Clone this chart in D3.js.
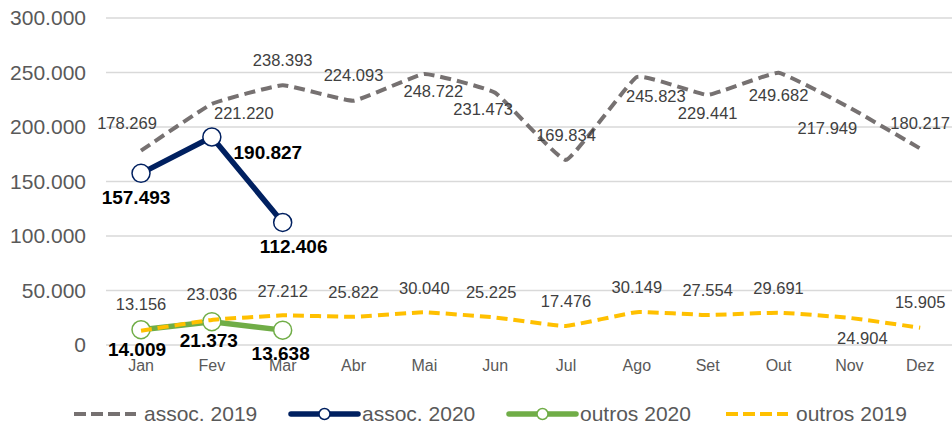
<!DOCTYPE html>
<html>
<head>
<meta charset="utf-8">
<script src="https://cdn.jsdelivr.net/npm/d3@7"></script>
<style>
  body { margin: 0; background: #fff; }
  svg { display: block; font-family: "Liberation Sans", Arial, sans-serif; }
</style>
</head>
<body>
<svg id="chart" width="952" height="425"></svg>
<script>
// chart data
const months = ['Jan', 'Fev', 'Mar', 'Abr', 'Mai', 'Jun', 'Jul', 'Ago', 'Set', 'Out', 'Nov', 'Dez'];
const yTicks = [0, 50000, 100000, 150000, 200000, 250000, 300000];
const assoc2019 = [178269, 221220, 238393, 224093, 248722, 231473, 169834, 245823, 229441, 249682, 217949, 180217];
const assoc2020 = [157493, 190827, 112406];
const outros2020 = [14009, 21373, 13638];
const outros2019 = [13156, 23036, 27212, 25822, 30040, 25225, 17476, 30149, 27554, 29691, 24904, 15905];

// label offsets (dx, dy from the point), as placed in the original
const assoc2019Off = [[-14, -27], [32, 9], [0, -25], [0, -26], [9, 17], [-12, 17], [0, -25], [19, 19], [0, 18], [0, 22], [-22, 21], [0, -25]];
const assoc2020Off = [[-5, 24], [56, 15], [11, 24]];
const outros2020Off = [[-4, 20], [-3, 19], [-2, 23]];
const outros2019Off = [[0, -26], [0, -26], [0, -24], [0, -25], [0, -24], [-4, -25], [0, -25], [0, -25], [0, -25], [0, -24], [13, 20], [0, -25]];

const fmt = d3.formatLocale({ decimal: ',', thousands: '.', grouping: [3], currency: ['', ''] }).format(',d');

const svg = d3.select('#chart');
const x = d3.scaleBand().domain(months).range([105.6, 955.6]);
const cx = m => x(m) + x.bandwidth() / 2;
const y = d3.scaleLinear().domain([0, 300000]).range([345, 18]);

// gridlines
svg.append('g')
  .selectAll('line')
  .data(yTicks)
  .join('line')
  .attr('x1', 106).attr('x2', 952)
  .attr('y1', d => y(d)).attr('y2', d => y(d))
  .attr('stroke', '#d9d9d9').attr('stroke-width', 1.5);

// y axis
const yAxis = svg.append('g')
  .attr('transform', 'translate(86,0)')
  .call(d3.axisLeft(y).tickValues(yTicks).tickFormat(fmt).tickSize(0).tickPadding(0));
yAxis.select('.domain').remove();
yAxis.selectAll('text')
  .attr('font-size', 21).attr('fill', '#595959')
  .attr('font-family', '"Liberation Sans", Arial, sans-serif');

// x axis
const xAxis = svg.append('g')
  .attr('transform', 'translate(0,345)')
  .call(d3.axisBottom(x).tickSize(0).tickPadding(0));
xAxis.select('.domain').remove();
xAxis.selectAll('text')
  .attr('y', 21).attr('dy', '0.32em')
  .attr('font-size', 16).attr('fill', '#595959')
  .attr('font-family', '"Liberation Sans", Arial, sans-serif');

function drawSeries (values, opts) {
  const line = d3.line()
    .x((d, i) => cx(months[i]))
    .y(d => y(d))
    // Excel's smoothing is mild, close to straight segments
    .curve(opts.smooth ? d3.curveCardinal.tension(0.7) : d3.curveLinear);
  const g = svg.append('g');
  g.append('path')
    .datum(values)
    .attr('d', line)
    .attr('fill', 'none')
    .attr('stroke', opts.color)
    .attr('stroke-width', opts.width)
    .attr('stroke-dasharray', opts.dash || null)
    .attr('stroke-linejoin', 'round');
  if (opts.marker) {
    g.selectAll('circle')
      .data(values)
      .join('circle')
      .attr('cx', (d, i) => cx(months[i]))
      .attr('cy', d => y(d))
      .attr('r', 9)
      .attr('fill', '#fff')
      .attr('stroke', opts.color)
      .attr('stroke-width', 1.5);
  }
  return g;
}

function drawLabels (values, offsets, opts) {
  svg.append('g')
    .selectAll('text')
    .data(values)
    .join('text')
    .attr('x', (d, i) => cx(months[i]) + offsets[i][0])
    .attr('y', (d, i) => y(d) + offsets[i][1])
    .attr('dy', '0.35em')
    .attr('text-anchor', 'middle')
    .attr('font-size', opts.size)
    .attr('font-weight', opts.bold ? 'bold' : 'normal')
    .attr('fill', opts.color)
    .text(d => fmt(d));
}

drawSeries(assoc2019, { color: '#767171', width: 4, dash: '11,6', smooth: true });
drawSeries(assoc2020, { color: '#002060', width: 5.5, marker: true });
drawSeries(outros2020, { color: '#70ad47', width: 5.5, marker: true });
drawSeries(outros2019, { color: '#ffc000', width: 4, dash: '11,6', smooth: true });

drawLabels(assoc2019, assoc2019Off, { size: 16.5, color: '#404040' });
drawLabels(outros2019, outros2019Off, { size: 16.5, color: '#404040' });
drawLabels(assoc2020, assoc2020Off, { size: 19, bold: true, color: '#000' });
drawLabels(outros2020, outros2020Off, { size: 19, bold: true, color: '#000' });

// legend
const legend = [
  { name: 'assoc. 2019', color: '#767171', x: 74, dash: '12,5', width: 4 },
  { name: 'assoc. 2020', color: '#002060', x: 291, width: 5.5, marker: true },
  { name: 'outros 2020', color: '#70ad47', x: 509, width: 5.5, marker: true },
  { name: 'outros 2019', color: '#ffc000', x: 726, dash: '12,5', width: 4 }
];
const lg = svg.append('g').attr('transform', 'translate(0,414)');
const item = lg.selectAll('g').data(legend).join('g')
  .attr('transform', d => `translate(${d.x},0)`);
item.append('line')
  .attr('x1', 0).attr('x2', d => d.marker ? 67 : 62)
  .attr('stroke', d => d.color)
  .attr('stroke-width', d => d.width)
  .attr('stroke-dasharray', d => d.dash || null)
  .attr('stroke-linecap', d => d.marker ? 'round' : 'butt');
item.filter(d => d.marker).append('circle')
  .attr('cx', 33.5).attr('r', 5.5)
  .attr('fill', '#fff').attr('stroke', d => d.color).attr('stroke-width', 1.5);
item.append('text')
  .attr('x', d => d.marker ? 71 : 70)
  .attr('dy', '0.35em')
  .attr('font-size', 21)
  .attr('fill', '#595959')
  .text(d => d.name);
</script>
</body>
</html>
